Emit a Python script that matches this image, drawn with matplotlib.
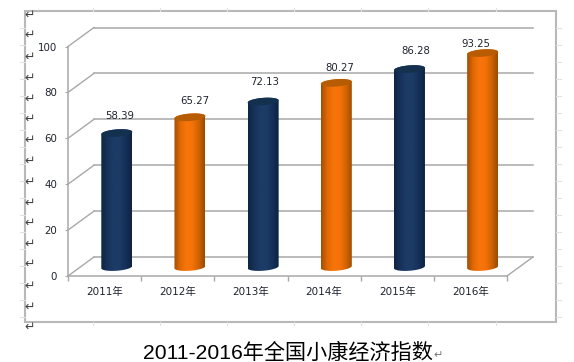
import numpy as np
import matplotlib
matplotlib.use("Agg")
import matplotlib.pyplot as plt
from matplotlib.colors import LinearSegmentedColormap
from matplotlib.patches import PathPatch, Rectangle
from matplotlib.path import Path
from matplotlib.transforms import Affine2D

years = ["2011年", "2012年", "2013年", "2014年", "2015年", "2016年"]
values = [58.39, 65.27, 72.13, 80.27, 86.28, 93.25]
value_labels = ["58.39", "65.27", "72.13", "80.27", "86.28", "93.25"]
series_kind = ["navy", "orange", "navy", "orange", "navy", "orange"]
y_ticks = [0, 20, 40, 60, 80, 100]
title = "2011-2016年全国小康经济指数"

W, H = 574, 362
fig = plt.figure(figsize=(W / 100, H / 100), dpi=100, facecolor="white")
GRID = "#a8a8a8"
TXT = "#1f2430"
CJK = ["DejaVu Sans", "Noto Sans CJK SC"]

# ---- page decoration (frame, rulers, return marks)
deco = fig.add_axes([0, 0, 1, 1], zorder=0)
deco.set_xlim(0, W); deco.set_ylim(H, 0); deco.axis("off")
deco.add_patch(Rectangle((25, 11), 531, 311, fc="white", ec="#b8b8b8", lw=1.5))
for x in [93, 160, 227, 294, 361, 428, 496]:
    deco.plot([x, x], [8, 11], color="#e2e2e2", lw=0.8)
    deco.plot([x, x], [322, 325], color="#e2e2e2", lw=0.8)
for y in np.arange(28, 320, 17):
    deco.plot([20, 25], [y, y], color="#e2e2e2", lw=0.8)
    deco.plot([556, 561], [y, y], color="#e2e2e2", lw=0.8)
for y in [15, 35, 57, 78, 99, 119, 140, 161, 182, 203, 223, 244, 264, 286, 307, 327]:
    deco.text(30, y, "↵", fontsize=9, color="#444444", ha="center", va="center")
deco.text(288, 353, title, fontsize=15.2, color="black", ha="center", va="center",
          family=["Liberation Sans", "Noto Sans CJK SC"])
deco.text(438, 355, "↵", fontsize=8, color="#777777", ha="center", va="center")

# ---- chart axes: the front plane of the 3-D box
X0, X1, Y0, Y100 = 68, 507, 276, 46.5
ax = fig.add_axes([X0 / W, 1 - Y0 / H, (X1 - X0) / W, (Y0 - Y100) / H], zorder=1)
ax.patch.set_alpha(0)
ax.set_xlim(-0.5, 5.5)
ax.set_ylim(0, 100)
for s in ["top", "right"]:
    ax.spines[s].set_visible(False)
for s in ["left", "bottom"]:
    ax.spines[s].set_color(GRID); ax.spines[s].set_linewidth(1.1)

ax.set_yticks(y_ticks)
ax.tick_params(axis="y", length=2, color=GRID, pad=6, labelsize=7.4, labelcolor=TXT)
ax.set_xticks(np.arange(-0.5, 6, 1))
ax.set_xticklabels([])
ax.tick_params(axis="x", which="major", length=3.5, color=GRID, width=1)
ax.set_xticks(range(len(years)), years, minor=True, family=CJK, fontsize=7.5, color=TXT)
ax.tick_params(axis="x", which="minor", length=0, pad=8)

def depth(frac):
    """Transform pushing data into the depth of the box."""
    return Affine2D().translate(26.0 * frac, 19.0 * frac) + fig.transFigure.inverted() + fig.transFigure

back = ax.transData + depth(1.0)
mid = ax.transData + depth(0.47)

# grid on the back wall and left wall
for v in y_ticks:
    ax.plot([-0.5, 5.5], [v, v], transform=back, color=GRID, lw=1.1, clip_on=False, zorder=1)
    px0 = ax.transData.transform((-0.5, v))
    pts = np.array([px0, px0 + np.array([26.0, 19.0])])
    ax.plot(pts[:, 0], pts[:, 1], transform=None, color=GRID, lw=1.0, clip_on=False, zorder=1)
pr = ax.transData.transform((5.5, 0))
pts = np.array([pr, pr + np.array([26.0, 19.0])])
ax.plot(pts[:, 0], pts[:, 1], transform=None, color=GRID, lw=1.0, clip_on=False, zorder=1)

# ---- cylinders
cmaps = {
    "navy": LinearSegmentedColormap.from_list("n", ["#0e2643", "#16325a", "#1c3b67", "#1c3b65", "#15305a", "#0c2340"]),
    "orange": LinearSegmentedColormap.from_list("o", ["#a34e04", "#e26905", "#f7750a", "#f47207", "#d06303", "#9a4a02"]),
}
top_col = {"navy": "#14304f", "orange": "#b85c04"}
half_w = 15.5 / ((X1 - X0) / 6)
b = 1.6   # ellipse half-height, data units
tilt = 0.5
t = np.linspace(0, np.pi, 40)

for i, (val, kind) in enumerate(zip(values, series_kind)):
    xs = half_w * np.cos(t)
    upper = val + b * np.sin(t) + tilt * np.cos(t)
    xb = half_w * np.cos(t[::-1])
    lower = -b * np.sin(t[::-1]) + tilt * np.cos(t[::-1])
    verts = np.r_[np.c_[i + xs, upper], np.c_[i + xb, lower], [[i + xs[0], upper[0]]]]
    body = PathPatch(Path(verts), transform=mid, fc="none", ec="none")
    ax.add_patch(body)
    im = ax.imshow(np.linspace(0, 1, 64)[None, :], cmap=cmaps[kind], aspect="auto",
                   extent=[i - half_w, i + half_w, -5, val + 5], transform=mid, zorder=3)
    im.set_clip_path(body)
    tt = np.linspace(0, 2 * np.pi, 80)
    ell = np.c_[i + half_w * np.cos(tt), val + b * np.sin(tt) + tilt * np.cos(tt)]
    ax.add_patch(PathPatch(Path(ell), transform=mid, fc=top_col[kind], ec="none", zorder=4))

# value labels: individually placed in the source chart
label_dx = [3, 5, 1, 4, 6, -7]
label_dy = [17, 16, 20, 15, 18, 9]
for i, (val, lab) in enumerate(zip(values, value_labels)):
    ax.annotate(lab, (i, val), xycoords=mid, xytext=(label_dx[i] * 0.72, label_dy[i] * 0.72),
                textcoords="offset points", ha="center", va="center",
                fontsize=7.3, color=TXT, zorder=5)

ax.set_xlim(-0.5, 5.5)
ax.set_ylim(0, 100)
fig.savefig("out.png", dpi=100, facecolor="white")
